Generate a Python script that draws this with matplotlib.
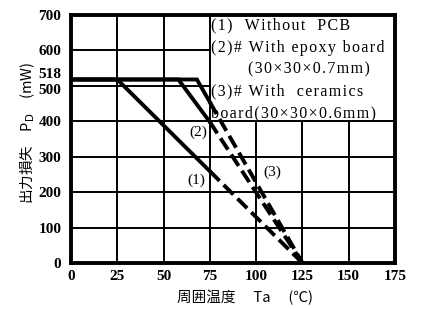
import matplotlib
matplotlib.use('Agg')
from matplotlib import pyplot as plt
from matplotlib.patches import Rectangle
from matplotlib.transforms import ScaledTranslation

# derating curves: solid part up to 75 C, dashed part after
x1_solid = [0, 25, 75]
y1_solid = [518, 518, 259]
x1_dash = [75, 125]
y1_dash = [259, 0]

x2_solid = [0, 58, 75]
y2_solid = [518, 518, 398]
x2_dash = [75, 125]
y2_dash = [398, 0]

x3_solid = [0, 68, 75]
y3_solid = [518, 518, 454]
x3_dash = [75, 125]
y3_dash = [454, 0]

xticks = [0, 25, 50, 75, 100, 125, 150, 175]
yticks = [0, 100, 200, 300, 400, 500, 600, 700]
legend_lines = ['(1)  Without  PCB',
                '(2)# With epoxy board',
                '(30×30×0.7mm)',
                '(3)# With  ceramics',
                'board(30×30×0.6mm)']
legend_x = [75.5, 75.5, 95.5, 75.5, 75.5]

serif = ['Liberation Serif', 'DejaVu Serif']
cjk = ['Noto Sans CJK JP', 'DejaVu Sans']


def spaced(s):
    # the scan has wide letter spacing, fake it with hair spaces
    return '\u200a'.join(s)


fig = plt.figure(figsize=(4.21, 3.09), dpi=100)
ax = fig.add_axes([71/421, 46/309, 324/421, 248/309])

ax.set_xlim(0, 175)
ax.set_ylim(0, 700)
ax.set_xticks(xticks)
ax.set_yticks(yticks)
ax.set_yticks([518], minor=True)
ax.set_yticklabels([str(v) for v in yticks], fontfamily=serif, fontweight='bold', fontsize=11)
ax.set_yticklabels(['518'], minor=True, fontfamily=serif, fontweight='bold', fontsize=11)
ax.set_xticklabels([str(v) for v in xticks], fontfamily=serif, fontweight='bold', fontsize=11)
ax.tick_params(which='both', length=0)
ax.tick_params(axis='y', which='both', pad=7)
ax.tick_params(axis='x', pad=5)
ax.grid(True, which='major', color='black', lw=1.4)
ax.set_axisbelow(True)
for s in ax.spines.values():
    s.set_linewidth(2.8)

# keep 518 and 500 apart
lab518 = ax.get_yticklabels(minor=True)[0]
lab518.set_transform(lab518.get_transform() + ScaledTranslation(0, 6/100, fig.dpi_scale_trans))
lab500 = ax.get_yticklabels()[5]
lab500.set_transform(lab500.get_transform() + ScaledTranslation(0, -3/100, fig.dpi_scale_trans))

# legend box covering the upper right part of the grid
ax.add_patch(Rectangle((75, 400), 100, 300, facecolor='white', edgecolor='black',
                       lw=1.4, zorder=1.5))
for i, line in enumerate(legend_lines):
    ax.text(legend_x[i], 692 - i * 61.5, spaced(line), ha='left', va='top', fontfamily=serif,
            fontsize=11.5, zorder=3)

for xs, ys, xd, yd in [(x1_solid, y1_solid, x1_dash, y1_dash),
                       (x2_solid, y2_solid, x2_dash, y2_dash),
                       (x3_solid, y3_solid, x3_dash, y3_dash)]:
    ax.plot(xs, ys, color='black', lw=2.8, solid_joinstyle='miter', zorder=2)
    ax.plot(xd, yd, color='black', lw=2.8, ls=(0, (3.5, 1.5)), zorder=2)

ax.text(67.5, 234, '(1)', ha='center', va='center', fontfamily=serif, fontsize=11)
ax.text(68.6, 370, '(2)', ha='center', va='center', fontfamily=serif, fontsize=11)
ax.text(108.6, 257, '(3)', ha='center', va='center', fontfamily=serif, fontsize=11)

fig.text(245/421, 1 - 298/309, '周囲温度　 Ta　 (℃)', ha='center', va='center',
         fontfamily=cjk, fontsize=10.5)
fig.text(28/421, 1 - 133/309, '出力損失　P$_\\mathrm{D}$　(mW)', ha='center', va='center',
         rotation=90, fontfamily=cjk, fontsize=10.5)

fig.savefig('out.png', dpi=100)
